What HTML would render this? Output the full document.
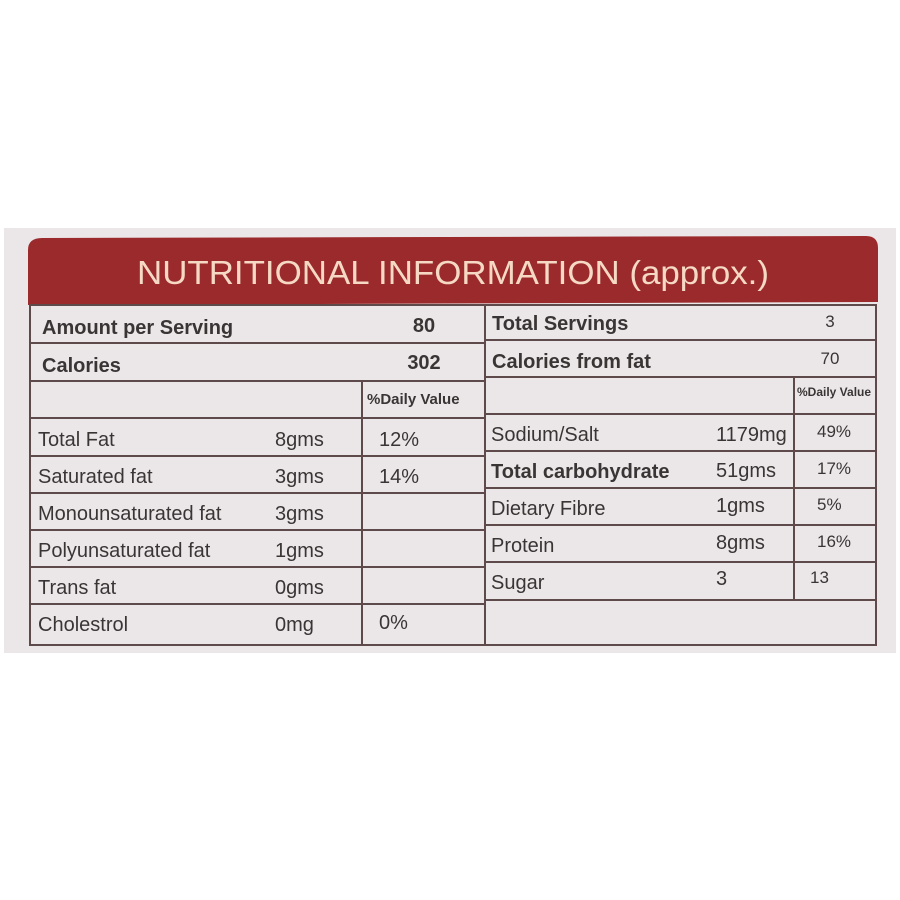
<!DOCTYPE html>
<html><head><style>
html,body{margin:0;padding:0;background:#fff;}
svg{display:block;}
text{font-family:"Liberation Sans",sans-serif;fill:#3a3535;}
.b{font-weight:bold;}
</style></head><body>
<svg width="900" height="900" viewBox="0 0 900 900">
<rect x="0" y="0" width="900" height="900" fill="#ffffff"/>
<rect x="4" y="228" width="892" height="425" fill="#ebe7e9"/>
<path d="M28,305 L28,250 Q28,238 42,238 L866,236 Q878,236 878,248 L878,302 Z" fill="#9a2a2b"/>
<text x="453" y="284" text-anchor="middle" font-size="33" style="fill:#f6d9c4" textLength="632" lengthAdjust="spacingAndGlyphs">NUTRITIONAL INFORMATION (approx.)</text>
<g stroke="#5e4a4a" stroke-width="2" fill="none">
<rect x="30" y="305" width="846" height="340"/>
<line x1="485" y1="305" x2="485" y2="645"/>
<line x1="30" y1="343" x2="485" y2="343"/>
<line x1="30" y1="381" x2="485" y2="381"/>
<line x1="30" y1="418" x2="485" y2="418"/>
<line x1="30" y1="456" x2="485" y2="456"/>
<line x1="30" y1="493" x2="485" y2="493"/>
<line x1="30" y1="530" x2="485" y2="530"/>
<line x1="30" y1="567" x2="485" y2="567"/>
<line x1="30" y1="604" x2="485" y2="604"/>
<line x1="362" y1="381" x2="362" y2="645"/>
<line x1="485" y1="340" x2="876" y2="340"/>
<line x1="485" y1="377" x2="876" y2="377"/>
<line x1="485" y1="414" x2="876" y2="414"/>
<line x1="485" y1="451" x2="876" y2="451"/>
<line x1="485" y1="488" x2="876" y2="488"/>
<line x1="485" y1="525" x2="876" y2="525"/>
<line x1="485" y1="562" x2="876" y2="562"/>
<line x1="485" y1="600" x2="876" y2="600"/>
<line x1="794" y1="377" x2="794" y2="600"/>
</g>
<g font-size="20">
<text x="42" y="334" class="b">Amount per Serving</text>
<text x="424" y="332" class="b" text-anchor="middle">80</text>
<text x="42" y="372" class="b">Calories</text>
<text x="424" y="369" class="b" text-anchor="middle">302</text>
<text x="367" y="404" class="b" font-size="15">%Daily Value</text>
<text x="38" y="446">Total Fat</text><text x="275" y="446">8gms</text><text x="379" y="446">12%</text>
<text x="38" y="483">Saturated fat</text><text x="275" y="483">3gms</text><text x="379" y="483">14%</text>
<text x="38" y="520">Monounsaturated fat</text><text x="275" y="520">3gms</text>
<text x="38" y="557">Polyunsaturated fat</text><text x="275" y="557">1gms</text>
<text x="38" y="594">Trans fat</text><text x="275" y="594">0gms</text>
<text x="38" y="631">Cholestrol</text><text x="275" y="631">0mg</text><text x="379" y="629">0%</text>
<text x="492" y="330" class="b">Total Servings</text>
<text x="830" y="327" text-anchor="middle" font-size="17">3</text>
<text x="492" y="368" class="b">Calories from fat</text>
<text x="830" y="364" text-anchor="middle" font-size="17">70</text>
<text x="797" y="396" font-size="12" class="b">%Daily Value</text>
<text x="491" y="441">Sodium/Salt</text><text x="716" y="441">1179mg</text><text x="817" y="437" font-size="17">49%</text>
<text x="491" y="478" class="b">Total carbohydrate</text><text x="716" y="477">51gms</text><text x="817" y="474" font-size="17">17%</text>
<text x="491" y="515">Dietary Fibre</text><text x="716" y="512">1gms</text><text x="817" y="510" font-size="17">5%</text>
<text x="491" y="552">Protein</text><text x="716" y="549">8gms</text><text x="817" y="547" font-size="17">16%</text>
<text x="491" y="589">Sugar</text><text x="716" y="585">3</text><text x="810" y="583" font-size="17">13</text>
</g>
</svg>
</body></html>
